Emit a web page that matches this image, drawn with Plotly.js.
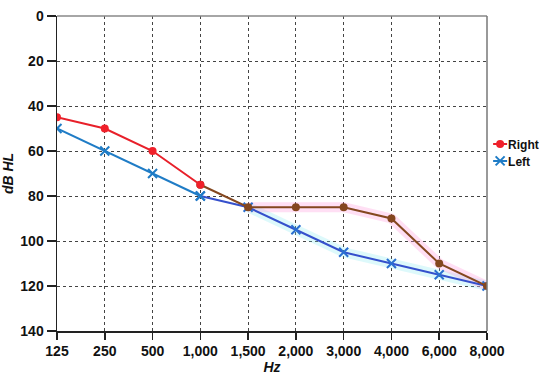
<!DOCTYPE html>
<html><head><meta charset="utf-8">
<script src="https://cdn.plot.ly/plotly-3.0.1.min.js"></script>
<style>html,body{margin:0;padding:0;background:#fff}#chart{width:550px;height:377px}</style>
</head><body><div id="chart"></div>
<script>
const freqs = ["125","250","500","1,000","1,500","2,000","3,000","4,000","6,000","8,000"];
const rightEar = [45,50,60,75,85,85,85,90,110,120];
const leftEar = [50,60,70,80,85,95,105,110,115,120];
const yTicks = [0,20,40,60,80,100,120,140];

const split = 3; // index of 1,000
const FONT = 'Liberation Sans, Arial, sans-serif';
const traces = [
  {x: freqs.slice(split+1), y: leftEar.slice(split+1), mode:'lines', line:{color:'rgba(120,230,240,0.25)',width:10}, showlegend:false, hoverinfo:'skip'},
  {x: freqs.slice(split+1), y: rightEar.slice(split+1), mode:'lines', line:{color:'rgba(255,150,220,0.3)',width:10}, showlegend:false, hoverinfo:'skip'},
  {x: freqs.slice(split), y: leftEar.slice(split), mode:'lines+markers', line:{color:'#3550cc',width:2},
   marker:{symbol:'x-thin',size:9,line:{color:'#2a6fd0',width:2}}, showlegend:false, hoverinfo:'skip'},
  {x: freqs.slice(0, split+1), y: leftEar.slice(0, split+1), mode:'lines+markers', name:'Left', line:{color:'#1f7cc6',width:2},
   marker:{symbol:'x-thin',size:9,line:{color:'#1f7cc6',width:2}}},
  {x: freqs.slice(split), y: rightEar.slice(split), mode:'lines+markers', line:{color:'#84471f',width:2},
   marker:{symbol:'circle',size:8,color:'#84471f'}, showlegend:false, hoverinfo:'skip'},
  {x: freqs.slice(0, split+1), y: rightEar.slice(0, split+1), mode:'lines+markers', name:'Right', line:{color:'#e8202a',width:2},
   marker:{symbol:'circle',size:8,color:'#f0202a'}}
];

const tickFont = {size:14, family:FONT, weight:'bold', color:'#111'};
const layout = {
  width:550, height:377,
  margin:{l:57, r:63, t:16, b:46, autoexpand:false},
  paper_bgcolor:'#fff', plot_bgcolor:'#fff',
  font:{family:FONT, color:'#111'},
  showlegend:true,
  legend:{x:0.984, xanchor:'left', y:0.64, yanchor:'top', traceorder:'reversed',
    font:{size:12, color:'#111', family:FONT, weight:'bold'},
    bgcolor:'rgba(0,0,0,0)', itemwidth:30, tracegroupgap:0},
  xaxis:{type:'category', categoryorder:'array', categoryarray:freqs, range:[0,9],
    showgrid:true, gridcolor:'#444', griddash:'3px,3px', gridwidth:1,
    showline:true, linecolor:'#222', linewidth:1.5, mirror:false,
    ticks:'outside', ticklen:7, tickcolor:'#222', tickwidth:1.5,
    tickfont:tickFont,
    title:{text:'<b><i>Hz</i></b>', font:{size:14, color:'#111'}, standoff:4},
    zeroline:false},
  yaxis:{range:[140,0], tickvals:yTicks, ticktext:yTicks.map(String),
    showgrid:true, gridcolor:'#444', griddash:'3px,3px', gridwidth:1,
    showline:true, linecolor:'#222', linewidth:1.5,
    ticks:'outside', ticklen:9, tickcolor:'#222', tickwidth:1.5,
    tickfont:tickFont,
    title:{text:'<b><i>dB HL</i></b>', font:{size:14, color:'#111'}, standoff:6},
    zeroline:false},
  shapes:[
    {type:'line', xref:'paper', yref:'paper', x0:0, x1:1, y0:1, y1:1, line:{color:'#888', width:1.5}},
    {type:'line', xref:'paper', yref:'paper', x0:1, x1:1, y0:0, y1:1, line:{color:'#777', width:1.5}}
  ]
};
Plotly.newPlot('chart', traces, layout, {displayModeBar:false, staticPlot:true}).then(function(gd){
  // compact legend glyphs like the original (short line, text close to symbol)
  gd.querySelectorAll('.legend .traces').forEach(function(tr){
    tr.querySelectorAll('.legendlines path').forEach(function(p){ p.setAttribute('d','M13,0h14'); });
    const t = tr.querySelector('text.legendtext');
    if (t) t.setAttribute('x', '28');
  });
  const items = gd.querySelectorAll('.legend .traces');
  items.forEach(function(tr, i){
    const tf = tr.getAttribute('transform') || '';
    tr.setAttribute('transform', 'translate(0,' + (14.5 + i*17) + ')');
  });
});
</script></body></html>
